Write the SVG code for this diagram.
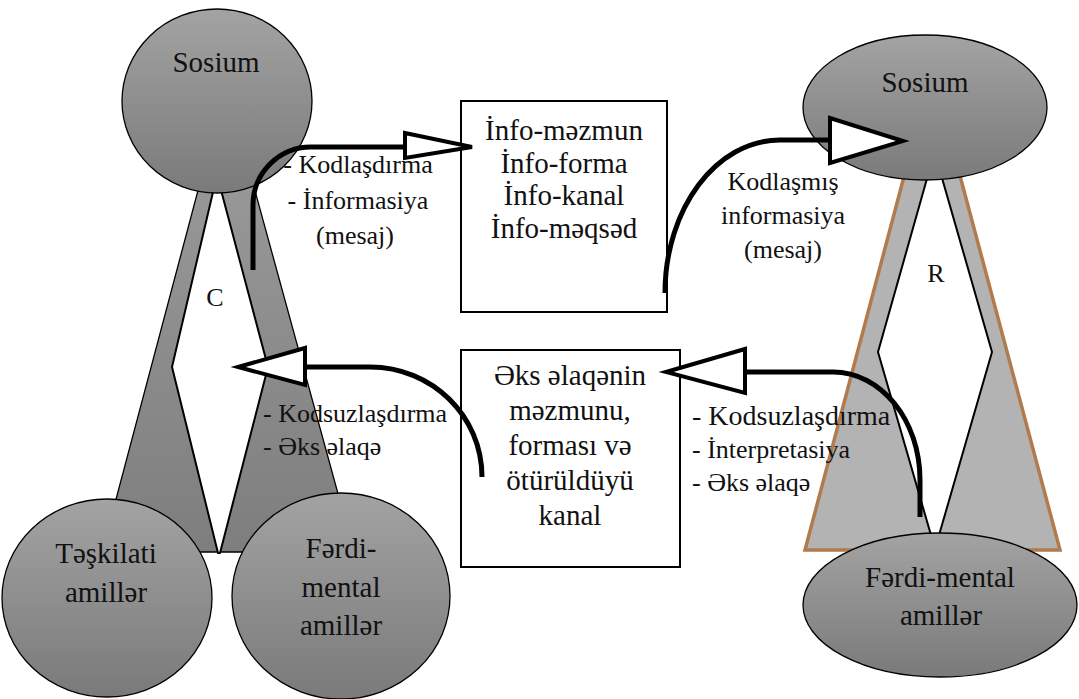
<svg xmlns="http://www.w3.org/2000/svg" width="1079" height="699" viewBox="0 0 1079 699">
<defs>
<linearGradient id="g" x1="0" y1="0" x2="0" y2="1">
<stop offset="0" stop-color="#a3a3a3"/>
<stop offset="1" stop-color="#7a7a7a"/>
</linearGradient>
<linearGradient id="gt" gradientUnits="userSpaceOnUse" x1="0" y1="190" x2="0" y2="552">
<stop offset="0" stop-color="#979797"/>
<stop offset="1" stop-color="#7e7e7e"/>
</linearGradient>
</defs>
<style>
.n{fill:url(#g);stroke:#000;stroke-width:1.3}
.t{font-family:'Liberation Serif',serif;font-size:29px;fill:#111;text-anchor:middle}
.l{font-family:'Liberation Serif',serif;font-size:26px;fill:#111}
.box{fill:#fff;stroke:#000;stroke-width:2}
.c{fill:none;stroke:#000;stroke-width:5}
.h{fill:#fff;stroke:#000;stroke-width:4;stroke-linejoin:miter}
</style>
<rect width="1079" height="699" fill="#fff"/>
<g id="left-structure">
<polygon points="226,85 102,552 354,552" fill="url(#gt)" stroke="#000" stroke-width="1.3"/>
<polygon points="217,175 172,367 218,553 220,553 268,367" fill="#fff" stroke="#000" stroke-width="2"/>
<text class="t" x="215" y="306" style="font-size:26px">C</text>
</g>
<g id="right-structure">
<polygon points="932,71 805,550 1060,550" fill="#b3b3b3" stroke="#b07b4e" stroke-width="3.5"/>
<polygon points="934.5,152 878,352 935,549 992,352" fill="#fff" stroke="#000" stroke-width="2"/>
<text class="t" x="936" y="282" style="font-size:26px">R</text>
</g>
<g id="sosium-left">
<ellipse class="n" cx="217" cy="101" rx="95" ry="92"/>
<text class="t" x="216" y="72">Sosium</text>
</g>
<g id="teskilati">
<ellipse class="n" cx="107" cy="598" rx="105" ry="99"/>
<text class="t" x="106" y="563">Təşkilati</text>
<text class="t" x="106" y="602">amillər</text>
</g>
<g id="ferdi-left">
<ellipse class="n" cx="341" cy="596" rx="109" ry="103"/>
<text class="t" x="341" y="558">Fərdi-</text>
<text class="t" x="341" y="597">mental</text>
<text class="t" x="341" y="635">amillər</text>
</g>
<g id="sosium-right">
<ellipse class="n" cx="925" cy="107.5" rx="122" ry="72.5"/>
<text class="t" x="925" y="92">Sosium</text>
</g>
<g id="ferdi-right">
<ellipse class="n" cx="940" cy="605" rx="137" ry="72"/>
<text class="t" x="940" y="587">Fərdi-mental</text>
<text class="t" x="941" y="625">amillər</text>
</g>
<g id="info-box">
<rect class="box" x="461" y="101" width="206" height="211"/>
<text class="t" x="564" y="140">İnfo-məzmun</text>
<text class="t" x="564" y="172.5">İnfo-forma</text>
<text class="t" x="564" y="205">İnfo-kanal</text>
<text class="t" x="564" y="237.5">İnfo-məqsəd</text>
</g>
<g id="feedback-box">
<rect class="box" x="461" y="350" width="219" height="217"/>
<text class="t" x="570" y="385">Əks əlaqənin</text>
<text class="t" x="570" y="420">məzmunu,</text>
<text class="t" x="570" y="455">forması və</text>
<text class="t" x="570" y="490">ötürüldüyü</text>
<text class="t" x="570" y="525">kanal</text>
</g>
<g id="connectors">
<path class="c" d="M253,270 V205 C253,173 279,147 311,147 H407"/>
<polygon class="h" points="405,133 405,158 472,147"/>
<path class="c" d="M665,293 C665,208.5 716.5,140 780,140 H832"/>
<polygon class="h" points="830,118 830,163 903,141"/>
<path class="c" d="M920,517 V480 C920,420 881,372 833,372 H743"/>
<polygon class="h" points="745,349 745,393 666,372"/>
<path class="c" d="M482,477 C482,416 432,367 370,367 H303"/>
<polygon class="h" points="305,348 305,385 238,367"/>
</g>
<g id="labels">
<text class="l" x="358" y="173" text-anchor="middle">- Kodlaşdırma</text>
<text class="l" x="358" y="209" text-anchor="middle">- İnformasiya</text>
<text class="l" x="355" y="244" text-anchor="middle">(mesaj)</text>
<text class="l" x="783" y="190" text-anchor="middle">Kodlaşmış</text>
<text class="l" x="783" y="224" text-anchor="middle">informasiya</text>
<text class="l" x="783" y="258" text-anchor="middle">(mesaj)</text>
<text class="l" x="263" y="422">- Kodsuzlaşdırma</text>
<text class="l" x="263" y="455">- Əks əlaqə</text>
<text class="l" x="692" y="425" style="font-size:28px">- Kodsuzlaşdırma</text>
<text class="l" x="692" y="458">- İnterpretasiya</text>
<text class="l" x="692" y="491">- Əks əlaqə</text>
</g>
</svg>
